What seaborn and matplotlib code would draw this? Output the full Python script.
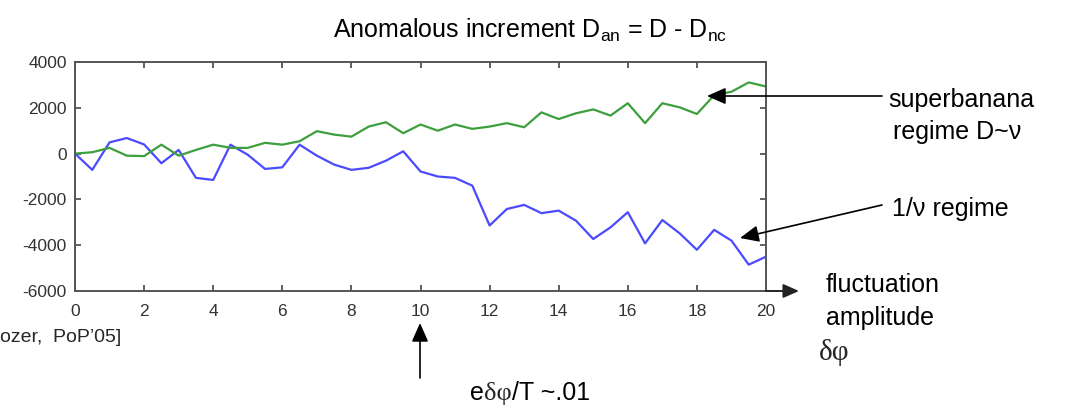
import numpy as np
import pandas as pd
import seaborn as sns
import matplotlib.pyplot as plt

# fluctuation amplitude (x axis)
amp = np.arange(0, 20.5, 0.5)
# 1/nu regime (blue) and superbanana regime (green)
d_blue = [0, -710, 490, 680, 400, -420, 160, -1060, -1150, 390,
          -50, -670, -600, 390, -90, -480, -710, -620, -310, 100,
          -780, -1000, -1060, -1400, -3140, -2420, -2240, -2600, -2490, -2930,
          -3730, -3220, -2560, -3920, -2900, -3480, -4200, -3330, -3800, -4850,
          -4500]
d_green = [0, 60, 250, -90, -110, 390, -90, 160, 390, 250,
           250, 470, 390, 540, 980, 830, 740, 1180, 1370, 890,
           1270, 1000, 1270, 1080, 1180, 1330, 1150, 1800, 1510, 1760,
           1930, 1660, 2200, 1330, 2200, 2020, 1730, 2550, 2700, 3110,
           2930]
xticks = list(range(0, 21, 2))
yticks = [-6000, -4000, -2000, 0, 2000, 4000]

df = pd.DataFrame({'amp': amp, 'blue': d_blue, 'green': d_green})

sns.set_style('ticks')
plt.rcParams['font.family'] = ['Liberation Sans', 'DejaVu Sans']
plt.rcParams['mathtext.default'] = 'regular'
plt.rcParams['axes.unicode_minus'] = False

W, H = 1077, 420
fig = plt.figure(figsize=(W / 100, H / 100), dpi=100)
ax = fig.add_axes([75 / W, 1 - 291 / H, (766 - 75) / W, (291 - 62) / H])

sns.lineplot(data=df, x='amp', y='blue', color='#4a4aff', lw=1.6, ax=ax)
sns.lineplot(data=df, x='amp', y='green', color='#3d9f3d', lw=1.6, ax=ax)

ax.set_xlim(0, 20)
ax.set_ylim(-6000, 4000)
ax.set_xticks(xticks)
ax.set_yticks(yticks)
ax.set_xlabel('')
ax.set_ylabel('')
ax.tick_params(direction='in', top=True, right=True, length=4, width=1.2,
               labelsize=12.5, labelcolor='#333333', color='#444444', pad=6)
ax.tick_params(axis='x', pad=9)
for s in ax.spines.values():
    s.set_linewidth(1.4)
    s.set_color('#555555')


def fp(x, y):
    return (x / W, 1 - y / H)


txt = dict(fontsize=18, color='black')
fig.text(*fp(530, 30), 'Anomalous increment D$_{an}$ = D - D$_{nc}$',
         ha='center', va='center', **txt)
fig.text(*fp(888, 100), 'superbanana', ha='left', va='center', **txt)
fig.text(*fp(893, 132), 'regime D~ν', ha='left', va='center', **txt)
fig.text(*fp(892, 209), '1/ν regime', ha='left', va='center', **txt)
fig.text(*fp(826, 285), 'fluctuation', ha='left', va='center', **txt)
fig.text(*fp(826, 318), 'amplitude', ha='left', va='center', **txt)
fig.text(*fp(819, 352), 'δφ', ha='left', va='center', fontsize=21,
         family=['Liberation Serif', 'DejaVu Serif'])
fig.text(*fp(0, 338), 'ozer,  PoP’05]', ha='left', va='center', fontsize=14)

# e delta phi / T ~ .01  (greek in serif as in the slide)
t1 = fig.text(*fp(470, 400), 'e', ha='left', va='baseline', **txt)
t2 = ax.annotate('δφ', xy=(1, 0), xycoords=t1, va='bottom', ha='left',
                 fontsize=19, family=['Liberation Serif', 'DejaVu Serif'])
ax.annotate('/T ~.01', xy=(1, 0), xycoords=t2, va='bottom', ha='left', **txt)

arrow = dict(arrowstyle='-|>,head_length=0.95,head_width=0.42', color='black',
             lw=1.2, mutation_scale=12, shrinkA=0, shrinkB=0)
ax.annotate('', xy=fp(420, 323), xytext=fp(420, 378), xycoords='figure fraction',
            textcoords='figure fraction', arrowprops=arrow)
ax.annotate('', xy=fp(707, 96), xytext=fp(882, 96), xycoords='figure fraction',
            textcoords='figure fraction', arrowprops=arrow)
ax.annotate('', xy=fp(740, 238), xytext=fp(882, 205), xycoords='figure fraction',
            textcoords='figure fraction', arrowprops=arrow)
xarrow = dict(arrow, mutation_scale=10, lw=1.4, color='#222222')
ax.annotate('', xy=fp(799, 291), xytext=fp(766, 291), xycoords='figure fraction',
            textcoords='figure fraction', arrowprops=xarrow)

fig.savefig('out.png', dpi=100)
